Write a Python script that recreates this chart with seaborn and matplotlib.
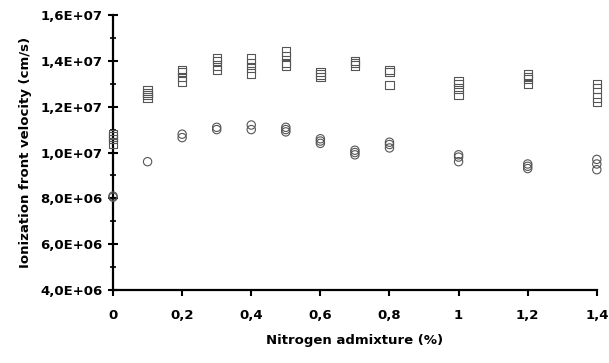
import numpy as np
import pandas as pd
import matplotlib
matplotlib.use("Agg")
import matplotlib.pyplot as plt
import seaborn as sns
from matplotlib.ticker import MultipleLocator

# nitrogen admixture (%) and repeated velocity measurements (cm/s)
sq_x = [0, 0, 0, 0, 0.1, 0.1, 0.1, 0.1, 0.2, 0.2, 0.2, 0.2,
        0.3, 0.3, 0.3, 0.3, 0.4, 0.4, 0.4, 0.4, 0.5, 0.5, 0.5, 0.5,
        0.6, 0.6, 0.6, 0.7, 0.7, 0.7, 0.8, 0.8, 0.8,
        1.0, 1.0, 1.0, 1.0, 1.2, 1.2, 1.2, 1.2, 1.4, 1.4, 1.4, 1.4]
sq_v = [1.04e7, 1.06e7, 1.07e7, 1.08e7, 1.24e7, 1.25e7, 1.26e7, 1.27e7,
        1.31e7, 1.33e7, 1.35e7, 1.36e7, 1.36e7, 1.38e7, 1.40e7, 1.41e7,
        1.345e7, 1.37e7, 1.39e7, 1.41e7, 1.38e7, 1.39e7, 1.42e7, 1.44e7,
        1.33e7, 1.34e7, 1.35e7, 1.38e7, 1.39e7, 1.40e7, 1.295e7, 1.35e7, 1.36e7,
        1.25e7, 1.28e7, 1.30e7, 1.31e7, 1.30e7, 1.32e7, 1.33e7, 1.34e7,
        1.22e7, 1.24e7, 1.28e7, 1.30e7]

ci_x = [0, 0, 0.1, 0.2, 0.2, 0.3, 0.3, 0.4, 0.4, 0.5, 0.5, 0.5,
        0.6, 0.6, 0.6, 0.7, 0.7, 0.7, 0.8, 0.8, 0.8,
        1.0, 1.0, 1.0, 1.2, 1.2, 1.2, 1.4, 1.4, 1.4]
ci_v = [8.05e6, 8.1e6, 9.6e6, 1.065e7, 1.08e7, 1.10e7, 1.11e7, 1.10e7, 1.12e7,
        1.09e7, 1.10e7, 1.11e7, 1.04e7, 1.05e7, 1.06e7, 0.99e7, 1.00e7, 1.01e7,
        1.02e7, 1.035e7, 1.045e7, 0.96e7, 0.98e7, 0.99e7, 0.93e7, 0.94e7, 0.95e7,
        0.925e7, 0.95e7, 0.97e7]

y_ticks = [4e6, 6e6, 8e6, 1e7, 1.2e7, 1.4e7, 1.6e7]
y_labels = ["4,0E+06", "6,0E+06", "8,0E+06", "1,0E+07", "1,2E+07", "1,4E+07", "1,6E+07"]
x_ticks = [0, 0.2, 0.4, 0.6, 0.8, 1.0, 1.2, 1.4]
x_labels = ["0", "0,2", "0,4", "0,6", "0,8", "1", "1,2", "1,4"]

df = pd.concat([
    pd.DataFrame({"x": sq_x, "v": sq_v, "kind": "square"}),
    pd.DataFrame({"x": ci_x, "v": ci_v, "kind": "circle"}),
])

sns.set_style("white")
plt.rcParams["font.family"] = ["DejaVu Sans"]
plt.rcParams["text.color"] = "black"
plt.rcParams["axes.labelcolor"] = "black"
plt.rcParams["xtick.color"] = "black"
plt.rcParams["ytick.color"] = "black"

fig = plt.figure(figsize=(6.09, 3.63), dpi=100)
ax = fig.add_axes([0.1856, 0.201, 0.7944, 0.7577])

sns.scatterplot(data=df, x="x", y="v", style="kind",
                markers={"square": "s", "circle": "o"},
                facecolors="none", edgecolor="#555555", linewidth=0.8,
                s=36, legend=False, ax=ax, clip_on=False, zorder=3)

ax.set_xlim(0, 1.4)
ax.set_ylim(4e6, 1.6e7)
ax.set_xticks(x_ticks)
ax.set_xticklabels(x_labels, fontsize=9.5, fontweight="bold")
ax.set_yticks(y_ticks)
ax.set_yticklabels(y_labels, fontsize=9.5, fontweight="bold")
ax.yaxis.set_minor_locator(MultipleLocator(1e6))

for side in ["top", "right"]:
    ax.spines[side].set_visible(False)
for side in ["left", "bottom"]:
    ax.spines[side].set_linewidth(1.6)
    ax.spines[side].set_color("black")

ax.tick_params(axis="y", which="both", left=True)
ax.tick_params(axis="x", which="major", bottom=True)
ax.tick_params(axis="y", which="major", direction="inout", length=7, width=1.5, pad=4)
ax.tick_params(axis="y", which="minor", direction="inout", length=5, width=1.2)
ax.tick_params(axis="x", which="major", direction="out", length=4, width=1.5, pad=10)

ax.set_xlabel("Nitrogen admixture (%)", fontsize=9.5, fontweight="bold", labelpad=8)
ax.set_ylabel("Ionization front velocity (cm/s)", fontsize=9.5, fontweight="bold", labelpad=6)

fig.savefig("out.png", dpi=100)
plt.close(fig)
